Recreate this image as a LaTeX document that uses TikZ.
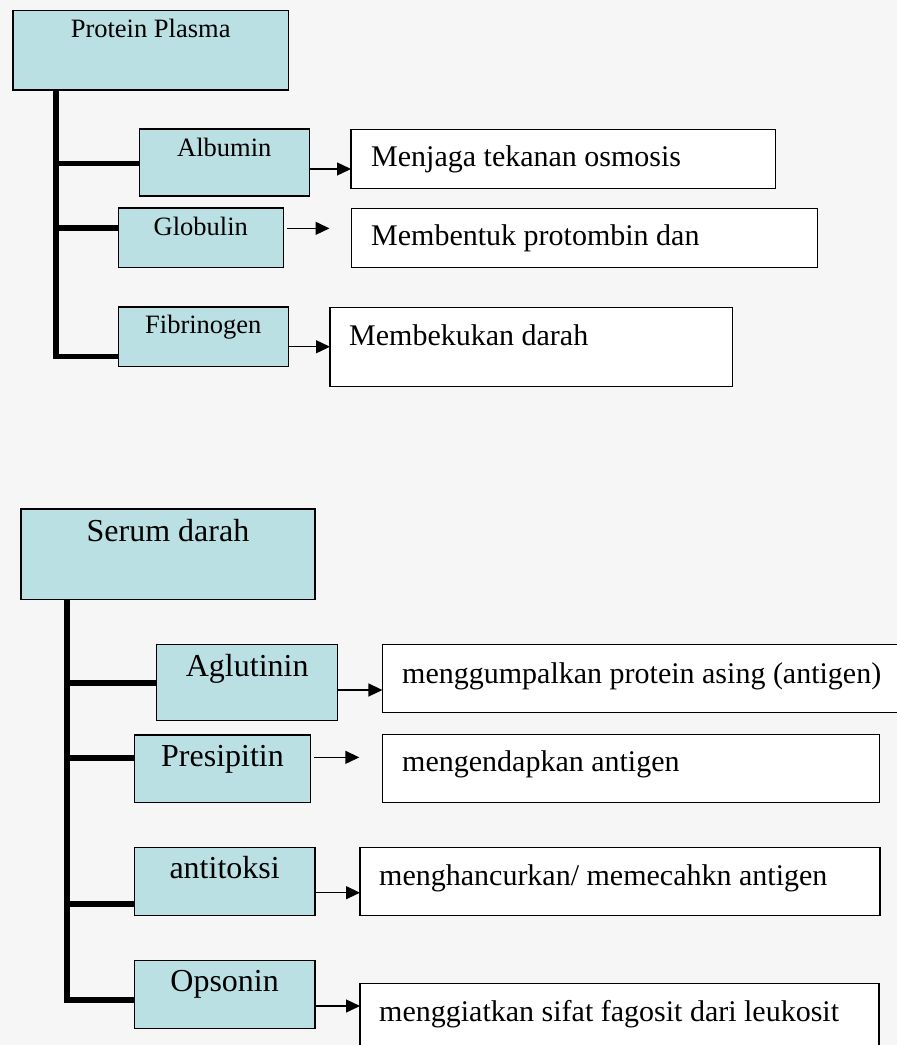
\documentclass[tikz,border=0pt]{standalone}
\usepackage{fontspec}
\setmainfont{Liberation Serif}
\usetikzlibrary{arrows.meta,calc}
\definecolor{boxcyan}{HTML}{BAE0E3}
\definecolor{pagebg}{HTML}{F6F6F6}

\begin{document}
\begin{tikzpicture}[x=1pt,y=-1pt,
  catbox/.style={draw=black, line width=1.4pt, fill=boxcyan, inner sep=0pt, outer sep=0pt, anchor=north west},
  descbox/.style={draw=black, line width=1.4pt, fill=white, inner sep=0pt, outer sep=0pt, anchor=north west},
  toplabel/.style={anchor=base, inner sep=0pt, font=\fontsize{26.5}{30}\selectfont},
  botlabel/.style={anchor=base, inner sep=0pt, font=\fontsize{32}{36}\selectfont},
  desctext/.style={anchor=base west, inner sep=0pt, font=\fontsize{30}{34}\selectfont},
  trunkA/.style={line width=5.3pt},
  trunkB/.style={line width=6pt},
  arr/.style={line width=1.4pt, -{Triangle[length=14pt,width=13pt]}}
]
\useasboundingbox (0,0) rectangle (897,1045);
\clip (0,0) rectangle (897,1045);
\fill[pagebg] (0,0) rectangle (897,1045);

% ---------- Protein Plasma ----------
\node[catbox, minimum width=275.3pt, minimum height=79.3pt] (pp) at (13,10.7) {};
\node[toplabel] (ppT) at ($(pp.north)+(0,27)$) {Protein Plasma};

\node[catbox, minimum width=170pt, minimum height=67pt] (alb) at (139.3,129) {};
\node[toplabel] (albT) at ($(alb.north)+(0,27)$) {Albumin};

\node[catbox, minimum width=165pt, minimum height=59.7pt] (glob) at (118.3,208) {};
\node[toplabel] (globT) at ($(glob.north)+(0,27)$) {Globulin};

\node[catbox, minimum width=170pt, minimum height=59.7pt] (fib) at (118.3,307) {};
\node[toplabel] (fibT) at ($(fib.north)+(0,26.3)$) {Fibrinogen};

\node[descbox, minimum width=424.3pt, minimum height=59.4pt] (d1) at (351,129.3) {};
\node[desctext] (d1T) at ($(d1.north west)+(20,37.4)$) {Menjaga tekanan osmosis};

\node[descbox, minimum width=466.2pt, minimum height=59pt] (d2) at (351.5,208.3) {};
\node[desctext] (d2T) at ($(d2.north west)+(19.5,36.7)$) {Membentuk protombin dan};

\node[descbox, minimum width=402.3pt, minimum height=79.4pt] (d3) at (330,307.3) {};
\node[desctext] (d3T) at ($(d3.north west)+(19,37.7)$) {Membekukan darah};

% trunk and branches
\coordinate (tA) at ($(pp.south west)+(43,0)$);
\coordinate (albB) at ($(alb.west)+(0,0.8)$);
\coordinate (globB) at ($(glob.west)+(0,-9.85)$);
\coordinate (fibB) at ($(fib.south west)+(0,-10.2)$);
\draw[trunkA] (tA) |- (fibB);
\draw[trunkA] (tA |- albB) -- (albB);
\draw[trunkA] (tA |- globB) -- (globB);

% arrows
\coordinate (a1s) at ($(alb.east)+(0,6.5)$);
\draw[arr] (a1s) -- (a1s -| d1.west);
\coordinate (a2s) at ($(glob.east)+(4,-9.5)$);
\draw[arr] (a2s) -- ($(a2s -| d2.west)+(-22,0)$);
\coordinate (a3s) at ($(fib.east)+(0,9.9)$);
\draw[arr] (a3s) -- (a3s -| d3.west);

% ---------- Serum darah ----------
\node[catbox, minimum width=294pt, minimum height=90.3pt] (sd) at (21,509) {};
\node[botlabel] (sdT) at ($(sd.north)+(0,32)$) {Serum darah};

\node[catbox, minimum width=181pt, minimum height=76.4pt] (agl) at (156.7,644.3) {};
\node[botlabel] (aglT) at ($(agl.north)+(0,32.4)$) {Aglutinin};

\node[catbox, minimum width=176.4pt, minimum height=67.3pt] (pre) at (134.3,735) {};
\node[botlabel] (preT) at ($(pre.north)+(0,31.7)$) {Presipitin};

\node[catbox, minimum width=180.7pt, minimum height=68pt] (ant) at (134.3,847.7) {};
\node[botlabel] (antT) at ($(ant.north)+(0,30.6)$) {antitoksi};

\node[catbox, minimum width=180.7pt, minimum height=67.6pt] (ops) at (134.3,960.7) {};
\node[botlabel] (opsT) at ($(ops.north)+(0,31)$) {Opsonin};

\node[descbox, minimum width=520pt, minimum height=68pt] (e1) at (382.4,644.3) {};
\node[desctext] (e1T) at ($(e1.north west)+(19.6,39)$) {menggumpalkan protein asing (antigen)};

\node[descbox, minimum width=497pt, minimum height=68.2pt] (e2) at (382.3,734.5) {};
\node[desctext] (e2T) at ($(e2.north west)+(19.7,37.2)$) {mengendapkan antigen};

\node[descbox, minimum width=520pt, minimum height=67.6pt] (e3) at (360,847.7) {};
\node[desctext] (e3T) at ($(e3.north west)+(19,37.3)$) {menghancurkan/ memecahkn antigen};

\node[descbox, minimum width=519pt, minimum height=90pt] (e4) at (360,983.3) {};
\node[desctext] (e4T) at ($(e4.north west)+(19,37.7)$) {menggiatkan sifat fagosit dari leukosit};

% trunk and branches
\coordinate (tB) at ($(sd.south west)+(45.7,0)$);
\coordinate (aglB) at ($(agl.west)+(0,0.8)$);
\coordinate (preB) at ($(pre.west)+(0,-11.15)$);
\coordinate (antB) at ($(ant.west)+(0,22.3)$);
\coordinate (opsB) at ($(ops.west)+(0,5.5)$);
\draw[trunkB] (tB) |- (opsB);
\draw[trunkB] (tB |- aglB) -- (aglB);
\draw[trunkB] (tB |- preB) -- (preB);
\draw[trunkB] (tB |- antB) -- (antB);

% arrows
\coordinate (b1s) at ($(agl.east)+(0,7.5)$);
\draw[arr] (b1s) -- (b1s -| e1.west);
\coordinate (b2s) at ($(pre.east)+(3.3,-11.3)$);
\draw[arr] (b2s) -- ($(b2s -| e2.west)+(-23,0)$);
\coordinate (b3s) at ($(ant.east)+(0,11)$);
\draw[arr] (b3s) -- (b3s -| e3.west);
\coordinate (b4s) at ($(ops.east)+(0,11.5)$);
\draw[arr] (b4s) -- (b4s -| e4.west);
\end{tikzpicture}
\end{document}
